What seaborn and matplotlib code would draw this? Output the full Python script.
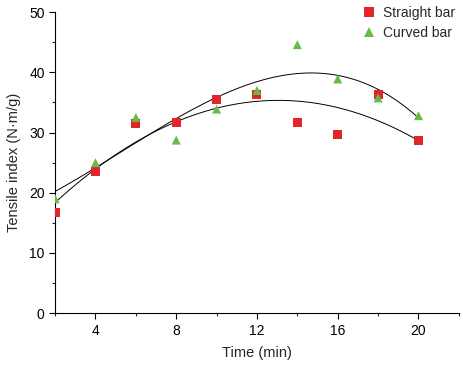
import numpy as np
import pandas as pd
import matplotlib
matplotlib.use('Agg')
import matplotlib.pyplot as plt
import seaborn as sns
from matplotlib.ticker import MultipleLocator

# podaci ocitani sa slike
time_min = [2, 4, 6, 8, 10, 12, 14, 16, 18, 20]
straight_bar = [16.7, 23.6, 31.5, 31.7, 35.5, 36.4, 31.6, 29.75, 36.3, 28.7]
curved_bar = [19.0, 25.0, 32.5, 28.75, 33.9, 37.0, 44.6, 38.9, 35.75, 32.8]
series_names = ['Straight bar', 'Curved bar']
fit_order = {'Straight bar': 2, 'Curved bar': 3}

df = pd.DataFrame({
    'time': time_min * 2,
    'index': straight_bar + curved_bar,
    'bar': [series_names[0]] * len(time_min) + [series_names[1]] * len(time_min),
})

sns.set_style('ticks')
plt.rcParams['font.family'] = ['Liberation Sans', 'DejaVu Sans']

fig = plt.figure(figsize=(4.63, 3.68), dpi=100)
ax = fig.add_axes([0.119, 0.149, 0.872, 0.818])

# polinomni fit za svaku seriju
for name in series_names:
    sub = df[df['bar'] == name]
    sns.regplot(data=sub, x='time', y='index', order=fit_order[name], ci=None, scatter=False,
                truncate=True, ax=ax, line_kws={'color': 'black', 'lw': 0.7})

sns.scatterplot(data=df, x='time', y='index', hue='bar', style='bar',
                palette={'Straight bar': '#e2252a', 'Curved bar': '#66bb46'},
                markers={'Straight bar': 's', 'Curved bar': '^'},
                s=42, linewidth=0, ax=ax, zorder=3)

ax.set_xlim(2, 22)
ax.set_ylim(0, 50)
ax.xaxis.set_major_locator(MultipleLocator(4))
ax.xaxis.set_minor_locator(MultipleLocator(2))
ax.yaxis.set_major_locator(MultipleLocator(10))
ax.yaxis.set_minor_locator(MultipleLocator(5))
ax.tick_params(which='major', length=4, width=0.8, labelsize=10, colors='black')
ax.tick_params(which='minor', length=2.5, width=0.8)
sns.despine(ax=ax)
for s in ['left', 'bottom']:
    ax.spines[s].set_linewidth(0.8)
    ax.spines[s].set_color('black')

ax.set_xlabel('Time (min)', fontsize=10.5, labelpad=6)
ax.set_ylabel('Tensile index (N·m/g)', fontsize=10.5, labelpad=6)

ax.legend(loc='upper left', bbox_to_anchor=(0.782, 0.985), bbox_transform=fig.transFigure,
          frameon=False, fontsize=10, handlelength=1.0, handletextpad=0.5, labelspacing=0.45,
          borderaxespad=0, borderpad=0, markerscale=1.0)

fig.savefig('out.png', dpi=100)
